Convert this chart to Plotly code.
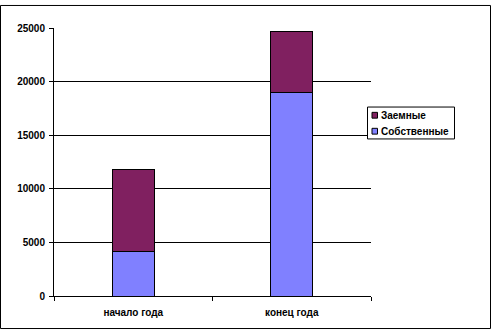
import plotly.graph_objects as go

categories = ["начало года", "конец года"]
sobstvennye = [4125, 19000]
zaemnye = [7675, 5700]
y_ticks = [0, 5000, 10000, 15000, 20000, 25000]
y_ticktext = ["0", "5000", "10000", "15000", "20000", "25000"]
series_names = ["Заемные", "Собственные"]
series_colors = ["#802060", "#8080FF"]

W, H = 491, 335
PL, PR, PT, PB = 54, 371, 24, 301  # plot area in pixels


def fx(x):
    return x / W


def fy(y):
    return 1 - y / H


bold = dict(family="Liberation Sans, Arial, sans-serif", size=10, color="black", weight="bold")

fig = go.Figure()
fig.add_trace(go.Bar(x=categories, y=sobstvennye, name=series_names[1], showlegend=False,
                     marker=dict(color=series_colors[1], line=dict(color="black", width=1))))
fig.add_trace(go.Bar(x=categories, y=zaemnye, name=series_names[0], showlegend=False,
                     marker=dict(color=series_colors[0], line=dict(color="black", width=1))))

# legend frame drawn on a full-page pixel overlay
lx0, lx1, ly0, ly1 = 367.5, 454.5, 105.5, 138.5
fig.add_trace(go.Scatter(x=[lx0, lx1, lx1, lx0, lx0], y=[ly0, ly0, ly1, ly1, ly0],
                         mode="lines", fill="toself", fillcolor="white",
                         line=dict(color="black", width=1), xaxis="x2", yaxis="y2",
                         hoverinfo="skip", showlegend=False))

shapes = [
    dict(type="rect", xref="paper", yref="paper",
         x0=fx(0.5), x1=fx(W - 0.5), y0=fy(H - 0.5), y1=fy(0.5),
         line=dict(color="black", width=1), layer="above"),
]
annotations = []
row_y = [114, 130.5]
for name, col, yc in zip(series_names, series_colors, row_y):
    shapes.append(dict(type="rect", xref="paper", yref="paper",
                       x0=fx(372), x1=fx(377.5), y0=fy(yc + 3), y1=fy(yc - 3),
                       line=dict(color="black", width=1), fillcolor=col, layer="above"))
    annotations.append(dict(xref="paper", yref="paper", x=fx(379), y=fy(yc),
                            xanchor="left", yanchor="middle", text=name, showarrow=False,
                            font=bold))

fig.update_layout(
    width=W, height=H,
    margin=dict(l=0, r=0, t=0, b=0, pad=0),
    barmode="stack", bargap=0.735,
    paper_bgcolor="white", plot_bgcolor="rgba(0,0,0,0)",
    font=bold,
    showlegend=False,
    xaxis=dict(domain=[fx(PL), fx(PR)], anchor="y",
               showline=True, linecolor="black", linewidth=1, ticks="outside", ticklen=4,
               tickcolor="black", tickson="boundaries", showgrid=False,
               ticklabelstandoff=7, tickfont=bold),
    yaxis=dict(domain=[fy(PB), fy(PT)], anchor="x",
               range=[0, 25000], tickvals=y_ticks, ticktext=y_ticktext, showline=True,
               linecolor="black", linewidth=1, ticks="outside", ticklen=4, tickcolor="black",
               showgrid=True, gridcolor="black", gridwidth=1, zeroline=False, tickfont=bold,
               ticklabelstandoff=2),
    xaxis2=dict(domain=[0, 1], range=[0, W], anchor="y2", visible=False, fixedrange=True),
    yaxis2=dict(domain=[0, 1], range=[H, 0], anchor="x2", visible=False, fixedrange=True),
    shapes=shapes,
    annotations=annotations,
)

fig.write_html("out.html")
